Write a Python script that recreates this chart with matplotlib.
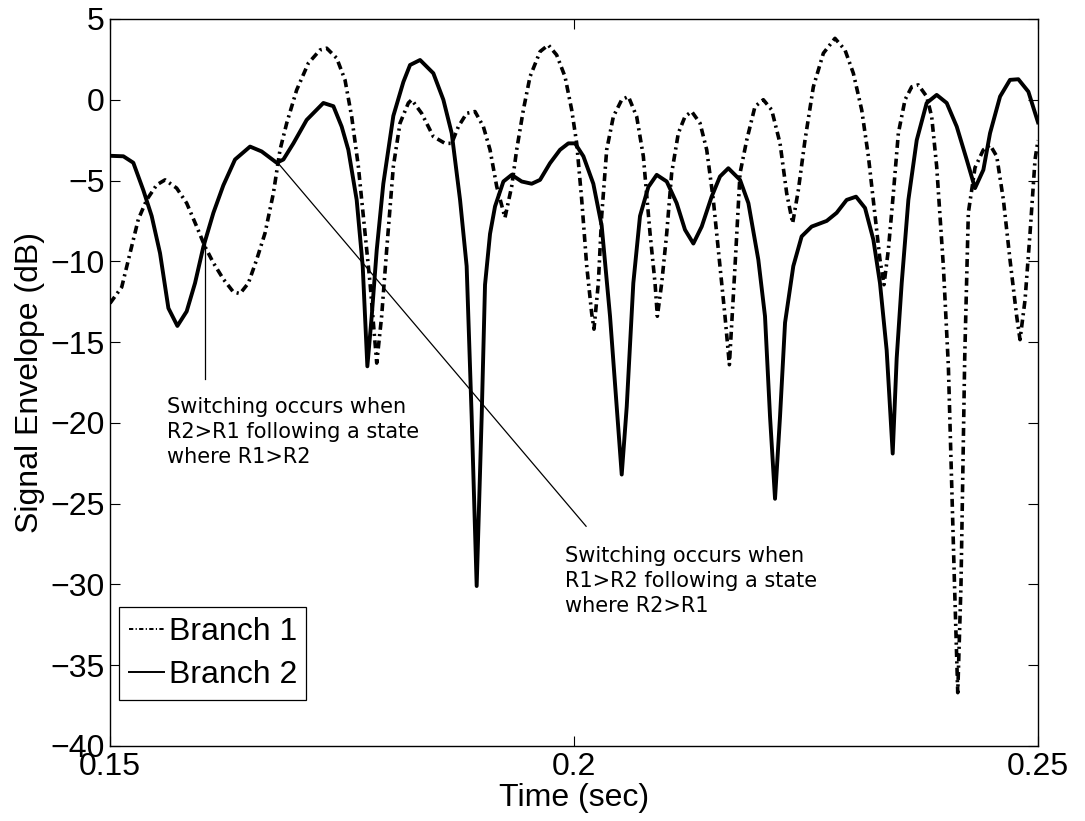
import matplotlib
matplotlib.use('Agg')
import matplotlib.pyplot as plt

# branch 1 envelope (dB) vs time (s)
t1=[0.15000,0.15126,0.15216,0.15305,0.15395,0.15503,0.15593,0.15718,0.15826,0.15934,0.16024,0.16114,0.16221,0.16329,0.16401,0.16491,0.16580,0.16670,0.16760,0.16832,
    0.16904,0.17011,0.17137,0.17263,0.17335,0.17443,0.17532,0.17604,0.17676,0.17748,0.17802,0.17874,0.17927,0.17981,0.18053,0.18125,0.18215,0.18251,0.18358,0.18484,
    0.18610,0.18682,0.18754,0.18843,0.18933,0.19023,0.19095,0.19167,0.19256,0.19328,0.19382,0.19454,0.19526,0.19634,0.19723,0.19813,0.19903,0.19975,0.20029,0.20083,
    0.20137,0.20190,0.20215,0.20262,0.20298,0.20352,0.20424,0.20514,0.20586,0.20675,0.20747,0.20819,0.20873,0.20898,0.20945,0.20999,0.21052,0.21124,0.21196,0.21268,
    0.21358,0.21430,0.21501,0.21573,0.21627,0.21674,0.21735,0.21789,0.21861,0.21950,0.22040,0.22130,0.22220,0.22292,0.22356,0.22417,0.22489,0.22579,0.22687,0.22812,
    0.22920,0.23010,0.23100,0.23172,0.23244,0.23297,0.23340,0.23387,0.23441,0.23495,0.23567,0.23639,0.23710,0.23800,0.23854,0.23908,0.23980,0.24034,0.24100,0.24135,
    0.24170,0.24210,0.24249,0.24321,0.24411,0.24483,0.24555,0.24627,0.24698,0.24770,0.24806,0.24860,0.24914,0.24968,0.25000]
r1=[-12.6,-11.6,-9.5,-7.4,-6.2,-5.27,-4.96,-5.47,-6.4,-7.85,-9.1,-10.1,-11.1,-11.9,-12.0,-11.35,-9.9,-8.26,-5.8,-3.1,
    -1.45,0.6,2.26,3.08,3.19,2.57,1.23,-1.04,-4.13,-8.26,-11.35,-16.3,-13.4,-9.3,-4.13,-1.45,-0.2,0.0,-0.84,-2.28,
    -2.7,-2.7,-1.66,-0.84,-0.73,-1.66,-3.1,-5.37,-7.3,-5.37,-3.1,-0.63,1.43,2.98,3.39,2.77,1.43,-0.63,-2.7,-6.2,
    -10.3,-13.2,-14.2,-11.35,-7.2,-3.1,-1.04,0.0,0.2,-1.04,-3.5,-8.26,-11.35,-13.4,-11.35,-8.26,-4.55,-2.07,-1.04,-0.73,
    -1.45,-3.1,-6.2,-10.3,-13.4,-16.4,-10.3,-4.55,-2.5,-0.42,0.0,-0.63,-2.7,-5.8,-7.64,-5.6,-2.5,0.8,2.88,3.8,
    3.08,1.64,-0.63,-3.5,-7.2,-9.9,-11.45,-9.3,-5.8,-2.07,0.0,0.8,0.92,0.2,-1.04,-4.13,-10.3,-16.5,-30.0,-36.7,
    -30.0,-16.0,-7.0,-4.2,-3.1,-2.8,-3.5,-6.2,-9.9,-13.4,-14.85,-12.4,-8.26,-3.7,-2.5]

# branch 2 envelope (dB) vs time (s)
t2=[0.15000,0.15144,0.15251,0.15359,0.15449,0.15539,0.15629,0.15726,0.15826,0.15916,0.16006,0.16114,0.16221,0.16347,0.16509,0.16634,0.16796,0.16868,0.16976,0.17119,
    0.17299,0.17407,0.17496,0.17568,0.17658,0.17723,0.17773,0.17820,0.17874,0.17945,0.18053,0.18161,0.18233,0.18341,0.18484,0.18592,0.18682,0.18772,0.18843,0.18897,
    0.18951,0.19005,0.19041,0.19095,0.19149,0.19239,0.19328,0.19436,0.19544,0.19634,0.19741,0.19849,0.19939,0.20011,0.20101,0.20208,0.20298,0.20388,0.20460,0.20514,
    0.20568,0.20639,0.20711,0.20801,0.20891,0.20999,0.21106,0.21196,0.21286,0.21376,0.21483,0.21573,0.21663,0.21789,0.21879,0.21986,0.22058,0.22112,0.22166,0.22220,
    0.22274,0.22363,0.22453,0.22561,0.22723,0.22830,0.22938,0.23039,0.23136,0.23226,0.23297,0.23369,0.23434,0.23477,0.23531,0.23603,0.23693,0.23800,0.23908,0.24016,
    0.24124,0.24231,0.24321,0.24411,0.24483,0.24591,0.24698,0.24788,0.24896,0.25000]
r2=[-3.47,-3.5,-3.9,-5.6,-7.2,-9.5,-12.9,-14.0,-13.1,-11.35,-9.1,-7.0,-5.3,-3.7,-2.9,-3.2,-3.9,-3.7,-2.7,-1.25,
    -0.2,-0.4,-1.66,-3.1,-6.2,-10.3,-16.5,-13.4,-9.3,-5.2,-1.0,1.1,2.15,2.46,1.64,0.0,-2.07,-6.2,-10.3,-19.6,
    -30.1,-19.6,-11.45,-8.3,-6.6,-5.06,-4.65,-5.06,-5.2,-4.96,-3.93,-3.1,-2.7,-2.7,-3.5,-5.2,-7.8,-13.4,-19.0,-23.2,
    -19.0,-11.35,-7.2,-5.4,-4.65,-5.06,-6.4,-8.05,-8.9,-7.85,-6.0,-4.75,-4.24,-4.96,-6.4,-9.9,-13.4,-19.6,-24.7,-19.6,
    -13.8,-10.3,-8.46,-7.85,-7.5,-7.0,-6.2,-6.0,-6.7,-8.67,-11.35,-15.5,-21.9,-16.0,-11.35,-6.2,-2.5,-0.2,0.3,-0.2,
    -1.66,-3.7,-5.47,-4.34,-2.07,0.2,1.23,1.27,0.5,-1.4]

# switching annotations: pointer line (t, dB) and note text
note1_line=([0.1602,0.1602],[-8.9,-17.3])
note1_pos=(0.15611,-18.4)
note1_text='Switching occurs when\nR2>R1 following a state\nwhere R1>R2'
note2_line=([0.1680,0.2013],[-3.85,-26.4])
note2_pos=(0.1990,-27.6)
note2_text='Switching occurs when\nR1>R2 following a state\nwhere R2>R1'

def main():
    plt.rcParams['font.family']=['Liberation Sans','DejaVu Sans']
    fig=plt.figure(figsize=(10.85,8.21),dpi=100)
    ax=fig.add_axes([0.1014,0.0914,0.8553,0.8855])
    ax.plot(t1,r1,color='k',lw=2.6,linestyle=(0,(2.2,1.2,0.6,1.2)),label='Branch 1')
    ax.plot(t2,r2,color='k',lw=2.8,label='Branch 2')
    ax.plot(*note1_line,color='k',lw=0.9); ax.plot(*note2_line,color='k',lw=0.9)
    ax.text(*note1_pos,note1_text,family='DejaVu Sans',fontsize=15,va='top',ha='left',linespacing=1.32)
    ax.text(*note2_pos,note2_text,family='DejaVu Sans',fontsize=15,va='top',ha='left',linespacing=1.32)
    ax.set_xlim(0.15,0.25); ax.set_ylim(-40,5)
    ax.set_xticks([0.15,0.2,0.25]); ax.set_xticklabels(['0.15','0.2','0.25'])
    ax.set_yticks(range(-40,6,5))
    ax.tick_params(direction='in',top=True,right=True,length=7,width=0.8,labelsize=23,pad=4)
    for s in ax.spines.values(): s.set_linewidth(1.0)
    ax.set_xlabel('Time (sec)',fontsize=23,labelpad=1); ax.set_ylabel('Signal Envelope (dB)',fontsize=23,labelpad=4)
    leg=ax.legend(loc='lower left',bbox_to_anchor=(0.0097,0.0633),borderaxespad=0,fontsize=23,frameon=True,fancybox=False,
                  edgecolor='k',framealpha=1,borderpad=0.3,labelspacing=0.42,handlelength=1.1,handletextpad=0.15)
    leg.get_frame().set_linewidth(0.9)
    for ln in leg.get_lines(): ln.set_linewidth(1.4)
    fig.savefig('out.png',dpi=100,facecolor='white')

if __name__=='__main__': main()
